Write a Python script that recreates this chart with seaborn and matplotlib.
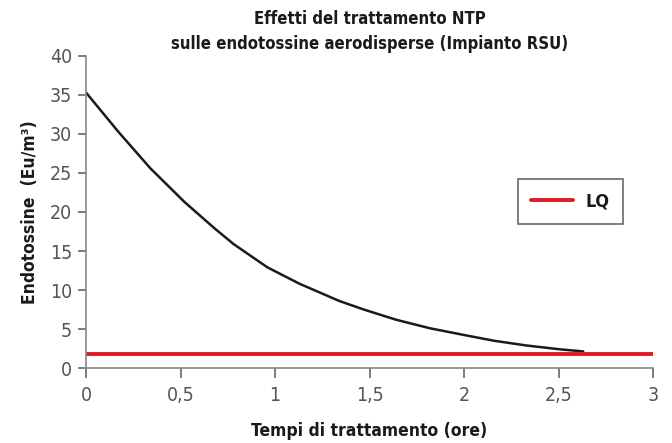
import numpy as np
import pandas as pd
import seaborn as sns
import matplotlib.pyplot as plt
from matplotlib.ticker import FuncFormatter

# values
tempi = [0, 0.17, 0.34, 0.52, 0.68, 0.78, 0.96, 1.13, 1.34, 1.47,
         1.64, 1.82, 2.03, 2.16, 2.33, 2.51, 2.63]
endotossine = [35.3, 30.3, 25.6, 21.3, 17.9, 15.9, 12.9, 10.8, 8.6, 7.5,
               6.2, 5.1, 4.1, 3.5, 2.9, 2.4, 2.14]
lq_x = [0, 3]
lq_y = [1.85, 1.85]

sns.set_theme(style="white")
plt.rcParams['font.family'] = ['Liberation Sans Narrow', 'DejaVu Sans']
plt.rcParams['font.stretch'] = 'condensed'

df = pd.DataFrame({"t": tempi, "e": endotossine})
df_lq = pd.DataFrame({"t": lq_x, "e": lq_y})

fig = plt.figure(figsize=(6.72, 4.43), dpi=100)
ax = fig.add_axes([0.128, 0.169, 0.844, 0.705])

sns.lineplot(data=df, x="t", y="e", color="#1a1a1a", linewidth=1.8, ax=ax)
sns.lineplot(data=df_lq, x="t", y="e", color="#e01b24", linewidth=2.8,
             label="LQ", ax=ax)

ax.set_xlim(0, 3)
ax.set_ylim(0, 40)
ax.set_xticks(np.arange(0, 3.01, 0.5))
ax.set_yticks(np.arange(0, 41, 5))
ax.xaxis.set_major_formatter(FuncFormatter(lambda v, p: f"{v:g}".replace(".", ",")))

for s in ["top", "right"]:
    ax.spines[s].set_visible(False)
for s in ["left", "bottom"]:
    ax.spines[s].set_color("#888888")
    ax.spines[s].set_linewidth(1.2)

ax.tick_params(axis="both", bottom=True, left=True, direction="out", length=7,
               width=1.2, color="#666666", labelcolor="#555555", labelsize=14)
ax.tick_params(axis="x", pad=6)
ax.tick_params(axis="y", pad=4, length=6)

ax.set_xlabel("Tempi di trattamento (ore)", fontsize=12.5, fontweight="bold",
              color="#1a1a1a", labelpad=12)
ax.set_ylabel("Endotossine  (Eu/m³)", fontsize=12.5, fontweight="bold",
              color="#1a1a1a", labelpad=8)
ax.set_title("Effetti del trattamento NTP\nsulle endotossine aerodisperse (Impianto RSU)",
             fontsize=12, fontweight="bold", color="#1a1a1a", pad=5, linespacing=1.5)

leg = ax.legend(loc="center", bbox_to_anchor=(0.854, 0.535), fancybox=False,
                frameon=True, edgecolor="#444444", handlelength=2.3,
                borderpad=0.75, handletextpad=0.7, borderaxespad=0,
                prop={"size": 13, "weight": "bold"})
leg.get_frame().set_linewidth(1.2)
for t in leg.get_texts():
    t.set_color("#1a1a1a")

fig.savefig("out.png", dpi=100)
